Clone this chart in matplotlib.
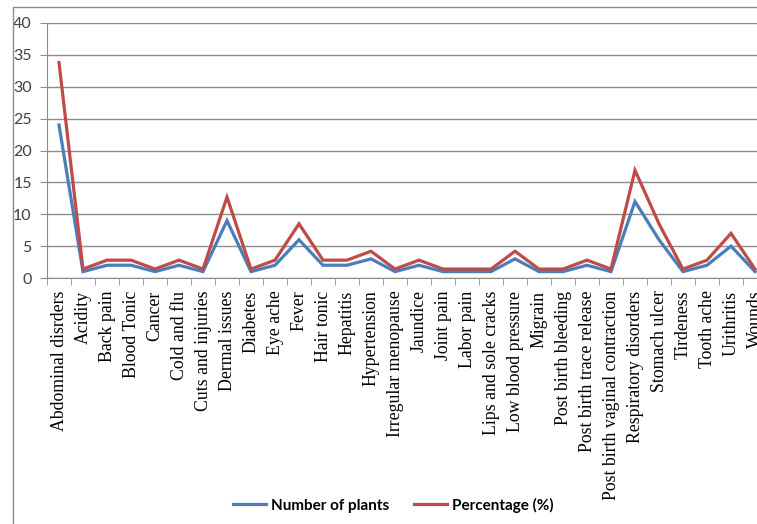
import matplotlib
matplotlib.use("Agg")
from matplotlib import pyplot as plt
from matplotlib.patches import Rectangle
import numpy as np

categorias = ["Abdominal disrders", "Acidity", "Back pain", "Blood Tonic", "Cancer",
              "Cold and flu", "Cuts and injuries", "Dermal issues", "Diabetes", "Eye ache",
              "Fever", "Hair tonic", "Hepatitis", "Hypertension", "Irregular menopause",
              "Jaundice", "Joint pain", "Labor pain", "Lips and sole cracks",
              "Low blood pressure", "Migrain", "Post birth bleeding",
              "Post birth trace release", "Post birth vaginal contraction",
              "Respiratory disorders", "Stomach ulcer", "Tirdeness", "Tooth ache",
              "Urithritis", "Wounds"]

num_plantas = [24, 1, 2, 2, 1, 2, 1, 9, 1, 2, 6, 2, 2, 3, 1, 2, 1, 1, 1, 3, 1, 1, 2, 1,
               12, 6, 1, 2, 5, 1]

porcentaje = [33.8, 1.4, 2.8, 2.8, 1.4, 2.8, 1.4, 12.7, 1.4, 2.8, 8.5, 2.8, 2.8, 4.2,
              1.4, 2.8, 1.4, 1.4, 1.4, 4.2, 1.4, 1.4, 2.8, 1.4, 16.9, 8.5, 1.4, 2.8,
              7.0, 1.4]

W, H = 757, 524
fig = plt.figure(figsize=(W / 100, H / 100), dpi=100)

# marco exterior del grafico (recortado a la derecha y abajo)
fig.patches.append(Rectangle((13 / W, -0.05), 1.2, 1 - 7 / H + 0.05,
                             transform=fig.transFigure, fill=False,
                             edgecolor="#8c8c8c", linewidth=1.0))

x0, x1 = 47, 767
y_top, y_bot = 23, 278
ax = fig.add_axes([x0 / W, 1 - y_bot / H, (x1 - x0) / W, (y_bot - y_top) / H])

x = np.arange(len(categorias))
ax.plot(x, num_plantas, color="#4a7ebb", linewidth=2.3, label="Number of plants",
        solid_joinstyle="miter", clip_on=False)
ax.plot(x, porcentaje, color="#be4b48", linewidth=2.3, label="Percentage (%)",
        solid_joinstyle="miter", clip_on=False)

ax.set_xlim(-0.5, len(categorias) - 0.5)
ax.set_ylim(0, 40)
ax.set_yticks(range(0, 41, 5))
ax.yaxis.grid(True, color="#8c8c8c", linewidth=1.0)
ax.set_axisbelow(True)

for s in ["top", "right"]:
    ax.spines[s].set_visible(False)
for s in ["left", "bottom"]:
    ax.spines[s].set_color("#8c8c8c")

ax.set_xticks(x)
ax.set_xticklabels(categorias, rotation=90, family="Liberation Serif", fontsize=12.8)
ax.set_xticks(np.arange(len(categorias) + 1) - 0.5, minor=True)
ax.tick_params(axis="x", which="major", length=0, pad=9)
ax.tick_params(axis="x", which="minor", length=5, color="#8c8c8c", direction="out")
ax.tick_params(axis="y", length=5, color="#8c8c8c", pad=6, labelsize=11.5)
for t in ax.get_yticklabels():
    t.set_family("Lato")
    t.set_color("#404040")

fig.legend(loc="center", bbox_to_anchor=(393 / W, 1 - 505 / H), ncol=2, frameon=False,
           prop={"family": "Lato", "weight": "bold", "size": 11},
           handlelength=2.2, columnspacing=1.6, handletextpad=0.3)

fig.savefig("out.png", dpi=100)
